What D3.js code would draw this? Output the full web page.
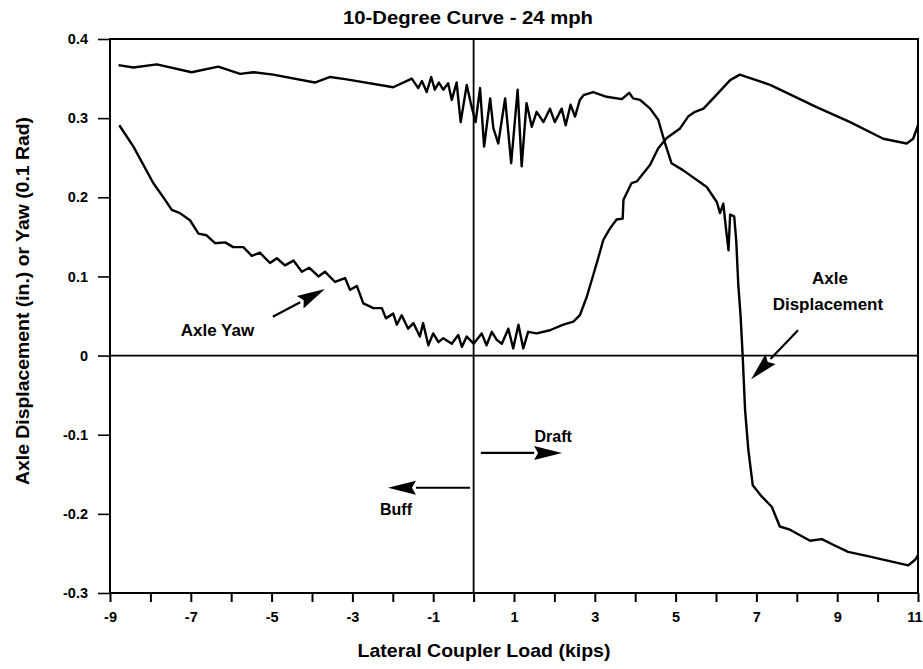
<!DOCTYPE html>
<html>
<head>
<meta charset="utf-8">
<script src="https://cdn.jsdelivr.net/npm/d3@7"></script>
<style>
  html, body { margin: 0; padding: 0; background: #fff; }
  svg { display: block; }
  text { font-family: "Liberation Sans", Arial, Helvetica, sans-serif; font-weight: bold; fill: #000; }
</style>
</head>
<body>
<svg id="chart" width="923" height="669"></svg>
<script>
// ---------------- data ----------------
const chartTitle = "10-Degree Curve - 24 mph";
const xAxisTitle = "Lateral Coupler Load (kips)";
const yAxisTitle = "Axle Displacement (in.) or Yaw (0.1 Rad)";

const xTickValues = [-9,-8,-7,-6,-5,-4,-3,-2,-1,0,1,2,3,4,5,6,7,8,9,10,11];
const xTickLabels = ["-9","","-7","","-5","","-3","","-1","","1","","3","","5","","7","","9","","11"];
const yTickValues = [0.4,0.3,0.2,0.1,0,-0.1,-0.2,-0.3];
const yTickLabels = ["0.4","0.3","0.2","0.1","0","-0.1","-0.2","-0.3"];

// Axle Displacement series
const dispX = [-8.79,-8.42,-7.84,-6.98,-6.32,-5.78,-5.45,-4.96,-3.93,-3.55,-3.14,-1.99,-1.53,-1.37,-1.28,-1.16,-1.05,-0.96,-0.86,-0.75,-0.63,-0.54,-0.42,-0.32,-0.17,-0.07,0.05,0.16,0.26,0.41,0.49,0.61,0.78,0.93,1.09,1.19,1.31,1.44,1.56,1.73,1.89,2.01,2.18,2.28,2.40,2.51,2.63,2.72,2.96,3.29,3.67,3.85,3.95,4.12,4.37,4.57,4.74,4.90,5.19,5.77,6.02,6.10,6.18,6.25,6.31,6.35,6.45,6.50,6.55,6.61,6.66,6.72,6.80,6.91,7.13,7.38,7.58,7.83,8.33,8.62,8.90,9.27,9.73,10.76,10.93,11.0];
const dispY = [0.367,0.364,0.368,0.358,0.365,0.356,0.358,0.355,0.345,0.352,0.349,0.339,0.350,0.338,0.347,0.333,0.352,0.336,0.345,0.336,0.344,0.323,0.345,0.295,0.342,0.319,0.295,0.338,0.264,0.325,0.287,0.268,0.325,0.243,0.336,0.239,0.319,0.289,0.308,0.295,0.312,0.295,0.312,0.291,0.317,0.302,0.323,0.329,0.333,0.327,0.324,0.332,0.325,0.323,0.312,0.298,0.268,0.243,0.234,0.213,0.194,0.180,0.192,0.159,0.133,0.178,0.176,0.146,0.091,0.049,0.000,-0.069,-0.119,-0.164,-0.178,-0.191,-0.216,-0.220,-0.234,-0.232,-0.239,-0.248,-0.253,-0.265,-0.258,-0.252];

// Axle Yaw series
const yawX = [-8.77,-8.42,-7.93,-7.64,-7.47,-7.27,-7.02,-6.81,-6.61,-6.40,-6.15,-5.95,-5.70,-5.49,-5.29,-5.04,-4.87,-4.67,-4.46,-4.25,-4.07,-3.84,-3.68,-3.43,-3.18,-3.06,-2.89,-2.73,-2.48,-2.27,-2.17,-1.99,-1.90,-1.78,-1.62,-1.49,-1.33,-1.25,-1.12,-1.00,-0.87,-0.75,-0.54,-0.38,-0.29,-0.17,0.0,0.20,0.32,0.45,0.57,0.70,0.86,0.98,1.11,1.23,1.35,1.56,1.89,2.22,2.47,2.63,2.80,3.05,3.21,3.38,3.54,3.69,3.71,3.91,4.04,4.37,4.57,4.78,5.11,5.31,5.48,5.69,5.93,6.35,6.59,7.34,8.49,9.32,10.14,10.72,10.88,11.0];
const yawY = [0.291,0.264,0.218,0.197,0.184,0.180,0.171,0.154,0.152,0.142,0.143,0.137,0.137,0.126,0.130,0.117,0.123,0.114,0.120,0.106,0.111,0.100,0.106,0.093,0.098,0.083,0.088,0.066,0.060,0.060,0.047,0.053,0.039,0.051,0.034,0.041,0.024,0.041,0.013,0.028,0.017,0.022,0.015,0.026,0.011,0.024,0.015,0.028,0.013,0.030,0.020,0.015,0.034,0.009,0.039,0.009,0.030,0.028,0.032,0.039,0.043,0.051,0.074,0.117,0.146,0.161,0.172,0.173,0.197,0.218,0.220,0.241,0.262,0.275,0.287,0.302,0.308,0.312,0.325,0.348,0.355,0.342,0.314,0.295,0.274,0.268,0.274,0.291];

// annotations (data coordinates)
const annoLabels = ["Axle Yaw", "Axle", "Displacement", "Draft", "Buff"];
const annoX = [-6.34, 8.82, 8.77, 1.97, -1.92];
const annoY = [0.032, 0.097, 0.064, -0.102, -0.195];
const annoSize = [17, 17, 17, 16, 16];
const arrowX1 = [-4.97, 8.03, 0.18, -0.09];
const arrowY1 = [0.049, 0.032, -0.123, -0.167];
const arrowX2 = [-3.68, 6.87, 2.19, -2.12];
const arrowY2 = [0.084, -0.030, -0.123, -0.167];

// ---------------- chart ----------------
const svg = d3.select("#chart");
const m = { left: 110, right: 923 - 918, top: 39, bottom: 669 - 593 };
const W = 923, H = 669;

const x = d3.scaleLinear().domain([-9, 11]).range([m.left, W - m.right]);
const y = d3.scaleLinear().domain([-0.3, 0.4]).range([H - m.bottom, m.top]);

// title
svg.append("text")
  .attr("x", 468).attr("y", 24)
  .attr("text-anchor", "middle")
  .attr("font-size", 18.5)
  .attr("textLength", 250).attr("lengthAdjust", "spacingAndGlyphs")
  .text(chartTitle);

// axes
const xAxis = d3.axisBottom(x)
  .tickValues(xTickValues)
  .tickFormat((d, i) => xTickLabels[i])
  .tickSize(9).tickPadding(10);
const gx = svg.append("g").attr("transform", `translate(0,${y(-0.3)})`).call(xAxis);
gx.select(".domain").remove();
gx.selectAll("line").attr("stroke", "#000").attr("stroke-width", 2);
gx.selectAll("text").attr("font-size", 14.5).attr("font-family", null);
// keep the last label inside the page edge
gx.selectAll(".tick").filter(d => d === 11).select("text")
  .attr("text-anchor", "end").attr("x", 922 - x(11));

const yAxis = d3.axisLeft(y)
  .tickValues(yTickValues)
  .tickFormat((d, i) => yTickLabels[i])
  .tickSize(12).tickPadding(10);
const gy = svg.append("g").attr("transform", `translate(${x(-9)},0)`).call(yAxis);
gy.select(".domain").remove();
gy.selectAll("line").attr("stroke", "#000").attr("stroke-width", 1.6);
gy.selectAll("text").attr("font-size", 14.5).attr("font-family", null);

// frame
svg.append("rect")
  .attr("x", x(-9)).attr("y", y(0.4))
  .attr("width", x(11) - x(-9)).attr("height", y(-0.3) - y(0.4))
  .attr("fill", "none").attr("stroke", "#000").attr("stroke-width", 2);

// zero lines
svg.append("line")
  .attr("x1", x(-9)).attr("x2", x(11)).attr("y1", y(0)).attr("y2", y(0))
  .attr("stroke", "#000").attr("stroke-width", 1.8);
svg.append("line")
  .attr("x1", x(0)).attr("x2", x(0)).attr("y1", y(0.4)).attr("y2", y(-0.3))
  .attr("stroke", "#000").attr("stroke-width", 1.8);

// series
const line = d3.line().x(d => x(d[0])).y(d => y(d[1]));
const dispData = dispX.map((v, i) => [v, dispY[i]]);
const yawData = yawX.map((v, i) => [v, yawY[i]]);
[dispData, yawData].forEach(dat => {
  svg.append("path").datum(dat)
    .attr("d", line)
    .attr("fill", "none").attr("stroke", "#000")
    .attr("stroke-width", 2.4).attr("stroke-linejoin", "round");
});

// annotation text
annoLabels.forEach((t, i) => {
  svg.append("text")
    .attr("x", x(annoX[i])).attr("y", y(annoY[i]))
    .attr("text-anchor", "middle").attr("dominant-baseline", "central")
    .attr("font-size", annoSize[i])
    .text(t);
});

// arrows
arrowX1.forEach((_, i) => {
  const x1 = x(arrowX1[i]), y1 = y(arrowY1[i]);
  const x2 = x(arrowX2[i]), y2 = y(arrowY2[i]);
  const ang = Math.atan2(y2 - y1, x2 - x1);
  const L = 28, hw = 7;
  const bx = x2 - L * Math.cos(ang), by = y2 - L * Math.sin(ang);
  svg.append("line")
    .attr("x1", x1).attr("y1", y1).attr("x2", bx).attr("y2", by)
    .attr("stroke", "#000").attr("stroke-width", 2.2);
  const pts = [
    [x2, y2],
    [bx + hw * Math.sin(ang), by - hw * Math.cos(ang)],
    [bx + 4 * Math.cos(ang), by + 4 * Math.sin(ang)],
    [bx - hw * Math.sin(ang), by + hw * Math.cos(ang)]
  ];
  svg.append("polygon").attr("points", pts.map(p => p.join(",")).join(" ")).attr("fill", "#000");
});

// axis titles
svg.append("text")
  .attr("x", 484).attr("y", 657)
  .attr("text-anchor", "middle").attr("font-size", 19)
  .attr("textLength", 253).attr("lengthAdjust", "spacingAndGlyphs")
  .text(xAxisTitle);

svg.append("text")
  .attr("transform", "translate(29,301) rotate(-90)")
  .attr("text-anchor", "middle").attr("font-size", 19)
  .attr("textLength", 368).attr("lengthAdjust", "spacingAndGlyphs")
  .text(yAxisTitle);
</script>
</body>
</html>
